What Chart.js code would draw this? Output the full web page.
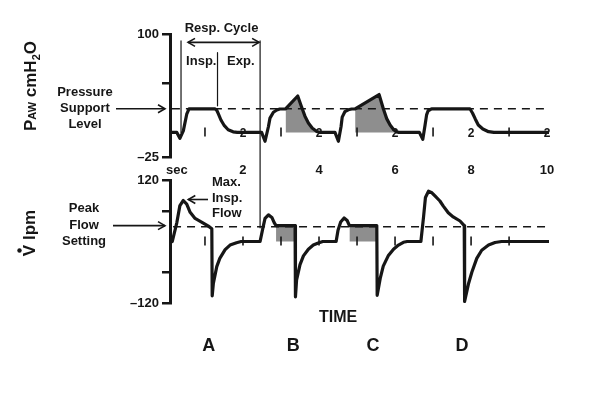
<!DOCTYPE html>
<html>
<head>
<meta charset="utf-8">
<script src="https://cdn.jsdelivr.net/npm/chart.js@4.4.1/dist/chart.umd.min.js"></script>
<style>
  html, body { margin: 0; padding: 0; background: #fff; }
  #wrap { position: relative; width: 602px; height: 413px; }
  #wrap canvas { position: absolute; left: 0; top: 0; }
</style>
</head>
<body>
<div id="wrap">
  <canvas id="flow-chart" width="602" height="413"></canvas>
  <canvas id="pressure-chart" width="602" height="413"></canvas>
</div>
<script>
// airway pressure (cmH2O) against time (sec), breaths A-D
const pressureTime = [
  0.13, 0.26, 0.34, 0.43, 0.52, 0.58, 1.26, 1.31, 1.35, 1.42, 1.51, 1.61, 1.74, 1.85,
  2.49, 2.58, 2.67, 2.71, 2.8, 2.89, 2.97, 3.12, 3.44, 3.53, 3.63, 3.72, 3.82, 3.94, 4.03,
  4.42, 4.51, 4.58, 4.61, 4.68, 4.77, 4.86, 4.95, 5.58, 5.69, 5.78, 5.87, 5.96, 6.04, 6.1,
  6.64, 6.73, 6.79, 6.83, 6.87, 6.96, 7.97, 8.04, 8.11, 8.19, 8.31, 8.46, 8.6, 10.05
];
const pressureValue = [
  0, 0, -6, 1.5, 18.5, 24, 24, 22.5, 19, 12.6, 6.8, 2.7, 0.6, 0,
  0, -9, 6, 14.5, 20.5, 22.8, 23.8, 24, 37, 27, 16.5, 9.6, 4.4, 1, 0,
  0, -9, 6, 15.5, 21, 23, 23.8, 24, 38.5, 24.3, 14, 7.5, 3, 0.5, 0,
  0, -7, 7.5, 17.8, 22, 24, 24, 19.5, 13.7, 7.5, 3.4, 0.7, 0, 0
];

// flow (l/min) against time (sec)
const flowTime = [
  0.14, 0.26, 0.34, 0.43, 0.52, 0.61, 0.74, 0.91, 1.09, 1.18, 1.19, 1.22, 1.31, 1.39, 1.53, 1.66, 1.83, 1.95,
  2.45, 2.52, 2.58, 2.67, 2.76, 2.82, 2.87, 3.37, 3.38, 3.41, 3.5, 3.59, 3.72, 3.85, 3.98, 4.1,
  4.45, 4.5, 4.57, 4.66, 4.74, 4.8, 5.52, 5.53, 5.61, 5.69, 5.82, 5.96, 6.09, 6.22, 6.32,
  6.68, 6.75, 6.8, 6.88, 6.97, 7.05, 7.18, 7.27, 7.4, 7.53, 7.71, 7.82, 7.83, 7.93, 8.02, 8.15, 8.28, 8.46, 8.63, 8.8, 10.03
];
const flowValue = [
  0, 37, 70, 80, 73, 57, 45, 38, 30, 25, -106, -82, -49, -33, -16, -7, -2.5, 0,
  0, 25, 45, 52, 47, 37, 31, 31, -108, -75, -45, -28, -15, -7, -3, 0,
  0, 22, 38, 46, 41, 31, 31, -105, -72, -48, -28, -15, -7, -1.5, 0,
  0, 48, 86, 98, 95, 89, 79, 69, 56, 48, 40, 31, -117, -83, -60, -33, -17, -7, -2, 0, 0
];

// shaded parts of breaths B and C
const pressureShade = [[3.12, 4.03], [4.95, 6.1]];
const flowShade = [[2.87, 3.37], [4.8, 5.52]];

const supportLevel = 24;
const peakFlowSetting = 29;
const levelSpan = [0.13, 10.05];

// Resp. cycle markers: time, top, bottom (cmH2O)
const cycleTime = [0.37, 1.33, 2.45];
const cycleTop = [93, 81, 93];
const cycleBottom = [0, 27, -97];

const timeTicks = [0.26, 2, 4, 6, 8, 10];
const timeTickLabels = ['sec', '2', '4', '6', '8', '10'];
const pressureTicks = [-25, 50, 100];
const pressureTickLabels = ['\u201325', '', '100'];
const flowTicks = [-120, -60, 60, 120];
const flowTickLabels = ['\u2013120', '', '', '120'];
const oddSeconds = [1, 3, 5, 7, 9];
const evenSeconds = [2, 4, 6, 8, 10];
const allSeconds = [1, 2, 3, 4, 5, 6, 7, 8, 9];
const breathNames = ['A', 'B', 'C', 'D'];
const breathNameTime = [1.1, 3.32, 5.42, 7.76];

const INK = '#161616';
const SHADE = '#8e8e8e';
const FONT = '"Liberation Sans", Arial, Helvetica, sans-serif';

function toPoints(times, values) {
  return times.map((t, i) => ({ x: t, y: values[i] }));
}

function cut(times, values, from, to) {
  return toPoints(times, values).filter(p => p.x >= from - 1e-6 && p.x <= to + 1e-6);
}

function text(ctx, str, x, y, size, align) {
  ctx.font = `bold ${size}px ${FONT}`;
  ctx.textAlign = align || 'center';
  ctx.textBaseline = 'middle';
  ctx.fillText(str, x, y);
}

function head(ctx, x, y, angle) {
  ctx.save();
  ctx.translate(x, y);
  ctx.rotate(angle);
  ctx.beginPath();
  ctx.moveTo(-7, -4);
  ctx.lineTo(0, 0);
  ctx.lineTo(-7, 4);
  ctx.stroke();
  ctx.restore();
}

function arrow(ctx, x1, y1, x2, y2, both) {
  ctx.lineWidth = 1.6;
  ctx.beginPath();
  ctx.moveTo(x1, y1);
  ctx.lineTo(x2, y2);
  ctx.stroke();
  head(ctx, x2, y2, Math.atan2(y2 - y1, x2 - x1));
  if (both) head(ctx, x1, y1, Math.atan2(y1 - y2, x1 - x2));
}

// vertical title with small subscripts, read bottom to top
function sideTitle(ctx, parts, cx, cy, dotOnFirst) {
  ctx.save();
  ctx.translate(cx, cy);
  ctx.rotate(-Math.PI / 2);
  ctx.textBaseline = 'alphabetic';
  ctx.textAlign = 'left';
  let total = 0;
  parts.forEach(p => {
    ctx.font = `bold ${p[1]}px ${FONT}`;
    total += ctx.measureText(p[0]).width;
  });
  let x = -total / 2;
  parts.forEach((p, i) => {
    ctx.font = `bold ${p[1]}px ${FONT}`;
    ctx.fillText(p[0], x, 6 + p[2]);
    const w = ctx.measureText(p[0]).width;
    if (dotOnFirst && i === 0) {
      ctx.beginPath();
      ctx.arc(x + w / 2, -9.5, 2.2, 0, Math.PI * 2);
      ctx.fill();
    }
    x += w;
  });
  ctx.restore();
}

const pressureDecor = {
  id: 'pressureDecor',
  afterDraw(chart) {
    const { ctx, chartArea } = chart;
    const xs = chart.scales.x;
    const ys = chart.scales.y;
    const y0 = ys.getPixelForValue(0);
    ctx.save();
    ctx.fillStyle = INK;
    ctx.strokeStyle = INK;

    // baseline marks
    ctx.lineWidth = 1.6;
    oddSeconds.forEach(t => {
      const x = xs.getPixelForValue(t);
      ctx.beginPath();
      ctx.moveTo(x, y0 - 5);
      ctx.lineTo(x, y0 + 4);
      ctx.stroke();
    });
    evenSeconds.forEach(t => text(ctx, '2', xs.getPixelForValue(t), y0 + 1, 12));

    sideTitle(ctx, [['P', 17, 0], ['AW', 11, 0], [' cmH', 17, 0], ['2', 11, 4], ['O', 17, 0]], 30, 86);

    // pressure support level
    const ps = ys.getPixelForValue(supportLevel);
    text(ctx, 'Pressure', 85, ps - 16, 13);
    text(ctx, 'Support', 85, ps, 13);
    text(ctx, 'Level', 85, ps + 16, 13);
    arrow(ctx, 116, ps, chartArea.left - 5, ps);

    // resp. cycle
    const yc = ys.getPixelForValue(91.5);
    const xa = xs.getPixelForValue(cycleTime[0]);
    const xm = xs.getPixelForValue(cycleTime[1]);
    const xb = xs.getPixelForValue(cycleTime[2]);
    text(ctx, 'Resp. Cycle', (xa + xb) / 2 + 1, yc - 14, 13);
    arrow(ctx, xa + 7, yc, xb - 1, yc, true);
    text(ctx, 'Insp.', (xa + xm) / 2 + 2, yc + 19, 13);
    text(ctx, 'Exp.', (xm + xb) / 2 + 2, yc + 19, 13);
    ctx.restore();
  }
};

const flowDecor = {
  id: 'flowDecor',
  afterDraw(chart) {
    const { ctx, chartArea } = chart;
    const xs = chart.scales.x;
    const ys = chart.scales.y;
    const y0 = ys.getPixelForValue(0);
    ctx.save();
    ctx.fillStyle = INK;
    ctx.strokeStyle = INK;

    ctx.lineWidth = 1.6;
    allSeconds.forEach(t => {
      const x = xs.getPixelForValue(t);
      ctx.beginPath();
      ctx.moveTo(x, y0 - 5);
      ctx.lineTo(x, y0 + 4);
      ctx.stroke();
    });

    sideTitle(ctx, [['V', 17, 0], [' lpm', 17, 0]], 29, 233, true);

    // peak flow setting
    const pf = ys.getPixelForValue(peakFlowSetting);
    text(ctx, 'Peak', 84, pf - 18, 13);
    text(ctx, 'Flow', 84, pf - 1, 13);
    text(ctx, 'Setting', 84, pf + 15, 13);
    arrow(ctx, 113, pf - 1, chartArea.left - 5, pf - 1);

    // max. insp. flow
    const px = xs.getPixelForValue(0.43);
    const py = ys.getPixelForValue(80);
    text(ctx, 'Max.', 212, py - 18, 13, 'left');
    text(ctx, 'Insp.', 212, py - 2, 13, 'left');
    text(ctx, 'Flow', 212, py + 13, 13, 'left');
    arrow(ctx, 208, py - 1, px + 5, py - 1);

    text(ctx, 'TIME', xs.getPixelForValue(4.5), 318, 16);
    breathNames.forEach((n, i) => text(ctx, n, xs.getPixelForValue(breathNameTime[i]), 346, 18));
    ctx.restore();
  }
};

const lineBase = {
  borderColor: INK,
  borderWidth: 3.2,
  pointRadius: 0,
  borderJoinStyle: 'round',
  borderCapStyle: 'round',
  fill: false,
  tension: 0
};

function yAxis(min, max, ticks, labels) {
  return {
    type: 'linear',
    min: min,
    max: max,
    afterBuildTicks: s => { s.ticks = ticks.map(v => ({ value: v })); },
    afterFit: s => { s.width = 170; },
    ticks: {
      color: INK,
      padding: 3,
      font: { family: FONT, size: 13, weight: 'bold' },
      callback: (v, i) => labels[i]
    },
    grid: { drawOnChartArea: false, drawTicks: true, tickLength: 8, color: INK, lineWidth: 2.5 },
    border: { display: true, color: INK, width: 3 }
  };
}

const commonOptions = {
  responsive: false,
  animation: false,
  events: [],
  plugins: { legend: { display: false }, tooltip: { enabled: false } }
};

// top: pressure
new Chart(document.getElementById('pressure-chart'), {
  type: 'line',
  data: {
    datasets: [
      { ...lineBase, data: toPoints(pressureTime, pressureValue), order: 0 },
      { ...lineBase, borderWidth: 1.5, borderDash: [8, 6], borderCapStyle: 'butt',
        data: levelSpan.map(t => ({ x: t, y: supportLevel })), order: 1 },
      ...pressureShade.map(r => ({
        ...lineBase, borderWidth: 0, backgroundColor: SHADE, fill: 'origin',
        data: cut(pressureTime, pressureValue, r[0], r[1]), order: 2
      })),
      ...cycleTime.map((t, i) => ({
        ...lineBase, borderWidth: 1.2, clip: false, order: 1,
        data: [{ x: t, y: cycleTop[i] }, { x: t, y: cycleBottom[i] }]
      }))
    ]
  },
  options: {
    ...commonOptions,
    layout: { padding: { top: 34, right: 53, left: 0, bottom: 0 } },
    scales: {
      x: {
        type: 'linear',
        min: 0.08,
        max: 10.05,
        afterBuildTicks: s => { s.ticks = timeTicks.map(v => ({ value: v })); },
        afterFit: s => { s.height = 413 - 157; },
        ticks: {
          color: INK,
          padding: 6,
          maxRotation: 0,
          autoSkip: false,
          font: { family: FONT, size: 13, weight: 'bold' },
          callback: (v, i) => timeTickLabels[i]
        },
        grid: { display: false, drawTicks: false },
        border: { display: false }
      },
      y: yAxis(-25, 100, pressureTicks, pressureTickLabels)
    }
  },
  plugins: [pressureDecor]
});

// bottom: flow
new Chart(document.getElementById('flow-chart'), {
  type: 'line',
  data: {
    datasets: [
      { ...lineBase, data: toPoints(flowTime, flowValue), order: 0 },
      { ...lineBase, borderWidth: 1.5, borderDash: [8, 6], borderCapStyle: 'butt',
        data: [0.16, 10.03].map(t => ({ x: t, y: peakFlowSetting })), order: 1 },
      ...flowShade.map(r => ({
        ...lineBase, borderWidth: 0, backgroundColor: SHADE, fill: 'origin',
        data: cut(flowTime, flowValue, r[0], r[1]), order: 2
      }))
    ]
  },
  options: {
    ...commonOptions,
    layout: { padding: { top: 180, right: 53, left: 0, bottom: 0 } },
    scales: {
      x: {
        type: 'linear',
        min: 0.08,
        max: 10.05,
        afterFit: s => { s.height = 413 - 303; },
        ticks: { display: false },
        grid: { display: false, drawTicks: false },
        border: { display: false }
      },
      y: yAxis(-120, 120, flowTicks, flowTickLabels)
    }
  },
  plugins: [flowDecor]
});
</script>
</body>
</html>
